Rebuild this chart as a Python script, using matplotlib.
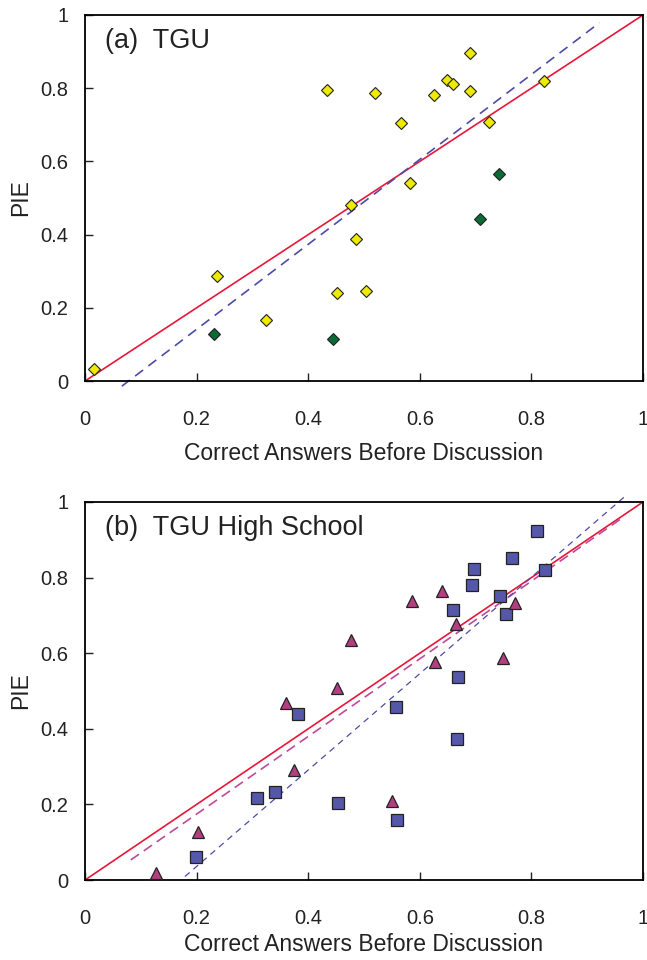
import numpy as np
import matplotlib
matplotlib.use('Agg')
import matplotlib.pyplot as plt

plt.rcParams['font.family'] = ['Liberation Sans', 'DejaVu Sans']

# -------------------------
# data
# -------------------------
# (a) TGU
a_yellow_x = [0.016, 0.237, 0.324, 0.434, 0.451, 0.477, 0.485, 0.503, 0.520,
              0.567, 0.583, 0.626, 0.648, 0.659, 0.690, 0.690, 0.724, 0.823]
a_yellow_y = [0.032, 0.286, 0.167, 0.796, 0.241, 0.480, 0.387, 0.247, 0.788,
              0.706, 0.541, 0.781, 0.822, 0.811, 0.896, 0.792, 0.708, 0.820]
a_green_x = [0.231, 0.445, 0.707, 0.742]
a_green_y = [0.128, 0.116, 0.443, 0.565]
# fitted line: slope, intercept, x start, x end
a_fit = [1.16, -0.0906, 0.066, 0.922]

# (b) TGU High School
b_square_x = [0.199, 0.308, 0.341, 0.381, 0.454, 0.558, 0.560, 0.660, 0.667,
              0.668, 0.694, 0.698, 0.744, 0.755, 0.766, 0.810, 0.825]
b_square_y = [0.060, 0.217, 0.232, 0.440, 0.205, 0.459, 0.160, 0.715, 0.373,
              0.538, 0.781, 0.823, 0.752, 0.704, 0.853, 0.923, 0.821]
b_tri_x = [0.127, 0.203, 0.361, 0.375, 0.451, 0.477, 0.550, 0.586, 0.627,
           0.639, 0.664, 0.749, 0.770]
b_tri_y = [0.018, 0.128, 0.467, 0.291, 0.509, 0.636, 0.208, 0.738, 0.577,
           0.765, 0.677, 0.588, 0.732]
b_square_fit = [1.275, -0.219, 0.179, 0.967]
b_tri_fit = [1.027, -0.031, 0.082, 0.962]

ticks = [0, 0.2, 0.4, 0.6, 0.8, 1]
tick_labels = ['0', '0.2', '0.4', '0.6', '0.8', '1']

RED = '#e8163a'
BLUE_DASH = '#4c4ca8'
PINK_DASH = '#c04a9a'


def fit_line(ax, fit, color, dashes, lw=1.2):
    slope, icpt, x0, x1 = fit
    xs = np.array([x0, x1])
    ax.plot(xs, slope * xs + icpt, color=color, lw=lw, dashes=dashes,
            clip_on=False, zorder=2)


def style_axes(ax, title, xlabelpad):
    ax.set_xlim(0, 1)
    ax.set_ylim(0, 1)
    ax.set_xticks(ticks)
    ax.set_yticks(ticks)
    ax.set_xticklabels(tick_labels)
    ax.set_yticklabels(tick_labels)
    ax.tick_params(direction='in', length=6, width=1, labelsize=14.5,
                   colors='#222222')
    ax.tick_params(axis='x', pad=21)
    ax.tick_params(axis='y', pad=12)
    for sp in ax.spines.values():
        sp.set_linewidth(1.3)
    ax.set_xlabel('Correct Answers Before Discussion', fontsize=16.5,
                  color='#222222', labelpad=xlabelpad)
    ax.set_ylabel('PIE', fontsize=16.5, color='#222222', labelpad=6)
    ax.text(0.035, 0.93, title, transform=ax.transAxes, fontsize=19.5,
            color='#222222', va='center', ha='left')
    # diagonal y = x
    ax.plot([0, 1], [0, 1], color=RED, lw=1.2, zorder=2)


fig = plt.figure(figsize=(6.47, 9.6), dpi=100)
ax_a = fig.add_axes([0.1314, 0.6031, 0.8624, 0.3813])
ax_b = fig.add_axes([0.1314, 0.0833, 0.8624, 0.3938])

# panel (a)
style_axes(ax_a, '(a)  TGU', 9.5)
fit_line(ax_a, a_fit, BLUE_DASH, (6, 4))
ax_a.plot(a_yellow_x, a_yellow_y, 'D', ms=6.6, mfc='#eeea00', mec='#222222',
          mew=0.8, ls='none', zorder=3)
ax_a.plot(a_green_x, a_green_y, 'D', ms=6.6, mfc='#0a6b35', mec='#222222',
          mew=0.8, ls='none', zorder=3)

# panel (b)
style_axes(ax_b, '(b)  TGU High School', 3.5)
fit_line(ax_b, b_tri_fit, PINK_DASH, (6, 3.5))
fit_line(ax_b, b_square_fit, BLUE_DASH, (5, 4), lw=0.9)
ax_b.plot(b_square_x, b_square_y, 's', ms=8.3, mfc='#5558a8', mec='#222222',
          mew=0.9, ls='none', zorder=3)
ax_b.plot(b_tri_x, b_tri_y, '^', ms=8.7, mfc='#b23f82', mec='#222222',
          mew=0.9, ls='none', zorder=3)

plt.savefig('out.png', dpi=100)
plt.close()
